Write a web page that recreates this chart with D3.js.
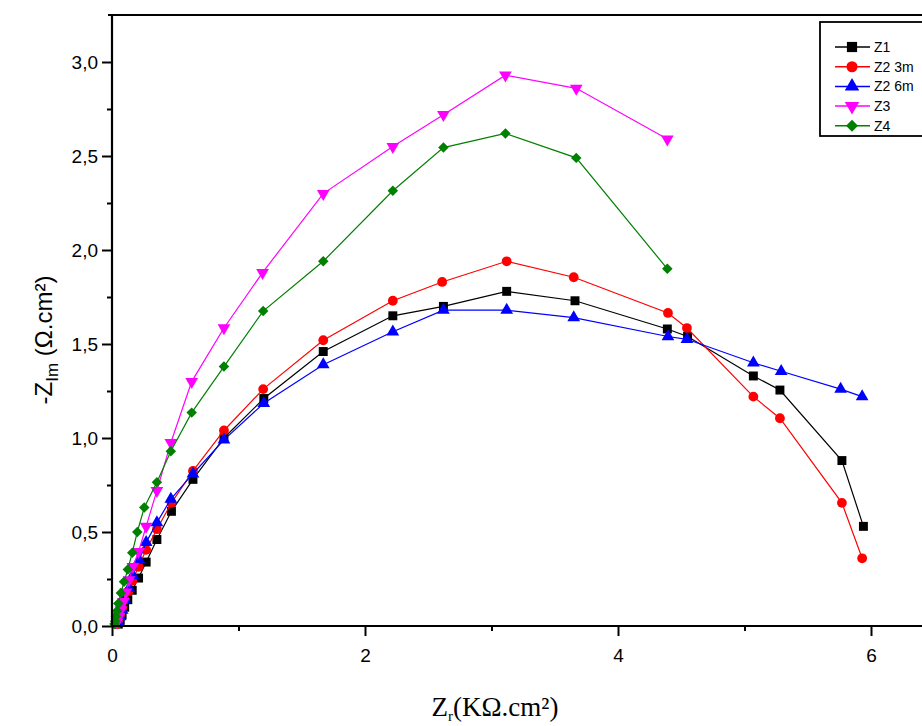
<!DOCTYPE html>
<html><head><meta charset="utf-8">
<script src="https://cdn.jsdelivr.net/npm/d3@7"></script>
<style>body{margin:0;background:#fff;} svg{display:block;}</style>
</head><body>
<svg id="c" width="922" height="726"></svg>
<script>
const seriesNames = ["Z1","Z2 3m","Z2 6m","Z3","Z4"];
const seriesColors = ["#000000","#ff0000","#0000ff","#ff00ff","#008000"];
const z1x = [0.05,0.065,0.08,0.10,0.125,0.16,0.21,0.27,0.355,0.47,0.64,0.885,1.20,1.67,2.22,2.62,3.12,3.66,4.39,4.55,5.07,5.28,5.77,5.94];
const z1y = [0.01,0.03,0.06,0.10,0.14,0.19,0.255,0.34,0.46,0.61,0.78,1.00,1.21,1.46,1.65,1.70,1.78,1.73,1.58,1.54,1.33,1.255,0.88,0.53];
const z2x = [0.04,0.05,0.065,0.08,0.10,0.13,0.16,0.21,0.27,0.355,0.47,0.64,0.885,1.195,1.67,2.22,2.61,3.12,3.65,4.395,4.545,5.07,5.28,5.77,5.93];
const z2y = [0.01,0.03,0.06,0.095,0.14,0.185,0.24,0.315,0.405,0.515,0.655,0.825,1.04,1.26,1.52,1.73,1.83,1.94,1.855,1.665,1.585,1.22,1.105,0.655,0.36];
const z3x = [0.05,0.065,0.08,0.10,0.135,0.165,0.215,0.27,0.355,0.465,0.64,0.885,1.20,1.67,2.22,2.62,3.12,3.65,4.395,4.545,5.07,5.29,5.76,5.93];
const z3y = [0.02,0.05,0.085,0.14,0.20,0.27,0.35,0.445,0.55,0.675,0.81,0.99,1.185,1.39,1.565,1.68,1.68,1.64,1.54,1.525,1.40,1.355,1.26,1.22];
const z4x = [0.04,0.055,0.07,0.09,0.11,0.135,0.165,0.21,0.27,0.355,0.465,0.63,0.885,1.19,1.67,2.22,2.62,3.11,3.67,4.39];
const z4y = [0.02,0.05,0.085,0.13,0.18,0.245,0.315,0.395,0.53,0.72,0.975,1.30,1.585,1.88,2.30,2.55,2.72,2.93,2.86,2.59];
const z5x = [0.02,0.025,0.03,0.04,0.05,0.07,0.095,0.125,0.16,0.20,0.255,0.355,0.465,0.63,0.885,1.195,1.67,2.22,2.62,3.11,3.67,4.39];
const z5y = [0.01,0.025,0.05,0.08,0.12,0.175,0.235,0.30,0.39,0.50,0.63,0.765,0.93,1.135,1.38,1.675,1.94,2.315,2.545,2.62,2.49,1.90];
const seriesX = [z1x,z2x,z3x,z4x,z5x];
const seriesY = [z1y,z2y,z3y,z4y,z5y];
const xMajorTicks = [0,2,4,6];
const xMinorTicks = [1,3,5];
const yMajorTicks = [0,0.5,1.0,1.5,2.0,2.5,3.0];
const yMinorTicks = [0.25,0.75,1.25,1.75,2.25,2.75];
const yTickLabels = ["0,0","0,5","1,0","1,5","2,0","2,5","3,0"];

const svg = d3.select("#c");
const L=112, T=15, B=626, R=934;
const x = d3.scaleLinear().domain([0,6.5]).range([L,L+6.5*126.5]);
const y = d3.scaleLinear().domain([0,3.25]).range([B,T]);

const shapes = [
  {type:d3.symbolSquare, size:80, rot:0},
  {type:d3.symbolCircle, size:75, rot:0},
  {type:d3.symbolTriangle, size:70, rot:0},
  {type:d3.symbolTriangle, size:70, rot:180},
  {type:d3.symbolSquare, size:55, rot:45}
];

const g = svg.append("g");
seriesNames.forEach((n,i)=>{
  const pts = seriesX[i].map((v,k)=>[v,seriesY[i][k]]);
  g.append("path").datum(pts)
    .attr("fill","none").attr("stroke",seriesColors[i]).attr("stroke-width",1.2)
    .attr("d", d3.line().x(d=>x(d[0])).y(d=>y(d[1])));
  const sym = d3.symbol().type(shapes[i].type).size(shapes[i].size);
  g.selectAll(null).data(pts).enter().append("path")
    .attr("d", sym())
    .attr("transform", d=>`translate(${x(d[0])},${y(d[1])}) rotate(${shapes[i].rot})`)
    .attr("fill",seriesColors[i]);
});

// Axes
const yAxis = d3.axisLeft(y).tickValues(yMajorTicks).tickSize(10).tickPadding(4)
  .tickFormat((d,i)=>yTickLabels[i]);
const ya = svg.append("g").attr("transform",`translate(${L},0)`).call(yAxis);
svg.append("g").attr("transform",`translate(${L},0)`)
  .call(d3.axisLeft(y).tickValues(yMinorTicks).tickSize(5).tickFormat(""))
  .select(".domain").remove();
const xAxis = d3.axisBottom(x).tickValues(xMajorTicks).tickSize(10).tickPadding(13)
  .tickFormat(d3.format("d"));
const xa = svg.append("g").attr("transform",`translate(0,${B})`).call(xAxis);
svg.append("g").attr("transform",`translate(0,${B})`)
  .call(d3.axisBottom(x).tickValues(xMinorTicks).tickSize(5).tickFormat(""))
  .select(".domain").remove();
svg.selectAll(".domain").attr("stroke","#000").attr("stroke-width",2.2);
svg.selectAll(".tick line").attr("stroke","#000").attr("stroke-width",2);
[ya,xa].forEach(a=>a.selectAll("text").attr("font-family","Arial, 'Liberation Sans', sans-serif").attr("font-size",19).attr("fill","#000"));
ya.select(".domain").attr("d",`M0,${B}V${T}`);
xa.select(".domain").attr("d",`M${L},0H${R}`);
// top frame line
svg.append("line").attr("x1",L-4).attr("x2",R).attr("y1",T).attr("y2",T)
  .attr("stroke","#000").attr("stroke-width",2.2);

// Axis titles
const yt = svg.append("text").attr("transform","translate(52,340) rotate(-90)")
  .attr("text-anchor","middle").attr("font-family","Arial, 'Liberation Sans', sans-serif")
  .attr("font-size",24).attr("fill","#000");
yt.append("tspan").text("-Z");
yt.append("tspan").attr("font-size",17).attr("dy",6).text("Im");
yt.append("tspan").attr("dy",-6).text(" (Ω.cm²)");
const xt = svg.append("text").attr("x",495).attr("y",716)
  .attr("text-anchor","middle").attr("font-family","'Liberation Serif', 'Times New Roman', serif")
  .attr("font-size",27).attr("fill","#000");
xt.append("tspan").text("Z");
xt.append("tspan").attr("font-size",15).attr("dy",5).text("r");
xt.append("tspan").attr("dy",-5).text("(KΩ.cm²)");

// Legend
const lg = svg.append("g");
lg.append("rect").attr("x",820).attr("y",22).attr("width",120).attr("height",114)
  .attr("fill","#fff").attr("stroke","#000").attr("stroke-width",1.8);
seriesNames.forEach((n,i)=>{
  const ry = 47 + i*19.7;
  lg.append("line").attr("x1",835).attr("x2",870).attr("y1",ry).attr("y2",ry)
    .attr("stroke",seriesColors[i]).attr("stroke-width",1.5);
  lg.append("path").attr("d", d3.symbol().type(shapes[i].type).size(shapes[i].size*1.3)())
    .attr("transform",`translate(852,${ry}) rotate(${shapes[i].rot})`).attr("fill",seriesColors[i]);
  lg.append("text").attr("x",874).attr("y",ry+5).text(n)
    .attr("font-family","Arial, 'Liberation Sans', sans-serif").attr("font-size",14).attr("fill","#000");
});
</script>
</body></html>
